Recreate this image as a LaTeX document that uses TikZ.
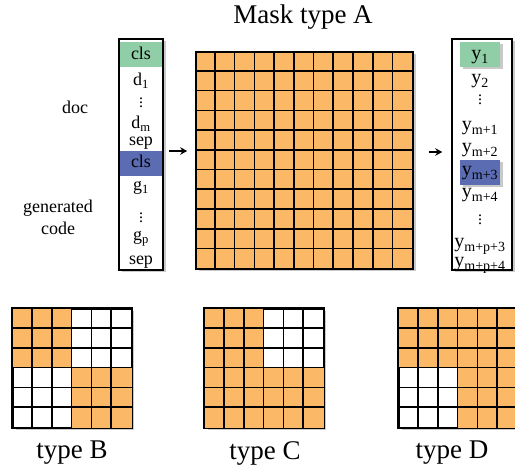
\documentclass[tikz,border=0pt]{standalone}
\usepackage{fontspec}
\setmainfont{Liberation Serif}
\newfontfamily\timesfont{Liberation Serif}
\usetikzlibrary{arrows.meta,shadows,calc}

\definecolor{maskorange}{HTML}{FBB867}
\definecolor{clsgreen}{HTML}{8FCEA6}
\definecolor{clsblue}{HTML}{5B6CB2}

\begin{document}
\begin{tikzpicture}[x=1pt,y=-1pt,
	shadowed/.style={drop shadow={shadow xshift=2.5pt,shadow yshift=-2.5pt,opacity=0.35,fill=black!60}},
	colbox/.style={draw,line width=1.5pt,fill=white,shadowed,inner sep=0pt},
	maskbox/.style={draw,line width=1.6pt,shadowed,inner sep=0pt},
	hl/.style={minimum height=25pt,anchor=center,inner sep=0pt},
	tok/.style={font=\timesfont\fontsize{18}{20}\selectfont,inner sep=0pt,anchor=base},
	ytok/.style={font=\timesfont\fontsize{20}{22}\selectfont,inner sep=0pt,anchor=base},
	vdot/.style={font=\timesfont\fontsize{16}{18}\selectfont,inner sep=0pt},
	lbl/.style={font=\timesfont\fontsize{18}{22}\selectfont,align=center},
	masklbl/.style={font=\timesfont\fontsize{27}{30}\selectfont},
	arr/.style={-{Stealth[length=7pt,width=7.5pt]},line width=2.2pt},
	gridline/.style={line width=1.6pt}]

	\useasboundingbox (0,0) rectangle (515,473);

	% input tokens
	\node[colbox,minimum width=44pt,minimum height=231pt] (inbox) at (141,154.5) {};
	\node[hl,fill=clsgreen,minimum width=42pt] (hlA) at (141,54.5) {};
	\node[hl,fill=clsblue,minimum width=42pt] (hlB) at (141,163.5) {};
	\node[tok] (cls1) at (141,60) {cls};
	\node[tok] (d1) at (141,86) {d\textsubscript{1}};
	\node[vdot] (dots1) at (141,100) {\vdots};
	\node[tok] (dm) at (141,129) {d\textsubscript{m}};
	\node[tok] (sep1) at (141,146) {sep};
	\node[tok] (cls2) at (141,168) {cls};
	\node[tok] (g1) at (141,191) {g\textsubscript{1}};
	\node[vdot] (dots2) at (141,215) {\vdots};
	\node[tok] (gp) at (141,241) {g\textsubscript{p}};
	\node[tok] (sep2) at (141,265) {sep};

	\node[lbl] (doc) at (75,107) {doc};
	\node[lbl] (gen) at (58,217) {generated\\code};

	% output tokens
	\node[colbox,minimum width=60pt,minimum height=231pt] (outbox) at (482,154.5) {};
	\node[hl,fill=clsgreen,shadowed,minimum width=40pt] (hlC) at (480,54.5) {};
	\node[hl,fill=clsblue,shadowed,minimum width=40pt] (hlD) at (480,172.5) {};
	\node[ytok] (y1) at (480,60) {y\textsubscript{1}};
	\node[ytok] (y2) at (480,84) {y\textsubscript{2}};
	\node[vdot] (ydots1) at (480,97) {\vdots};
	\node[ytok] (ym1) at (480,131) {y\textsubscript{m+1}};
	\node[ytok] (ym2) at (480,153) {y\textsubscript{m+2}};
	\node[ytok] (ym3) at (480,176) {y\textsubscript{m+3}};
	\node[ytok] (ym4) at (480,198) {y\textsubscript{m+4}};
	\node[vdot] (ydots2) at (480,217) {\vdots};
	\node[ytok] (ymp3) at (480,248) {y\textsubscript{m+p+3}};
	\node[ytok] (ymp4) at (480,267) {y\textsubscript{m+p+4}};

	% mask type A
	\node[masklbl] (capA) at (303,17) {Mask type A};
	\node[maskbox,fill=maskorange,minimum size=217pt] (maskA) at (304.5,160.5) {};
	\foreach \i in {1,...,10} {
		\draw[gridline] ($(maskA.north west)+(\i*19.727,0)$) -- ($(maskA.south west)+(\i*19.727,0)$);
		\draw[gridline] ($(maskA.north west)+(0,\i*19.727)$) -- ($(maskA.north east)+(0,\i*19.727)$);
	}

	\draw[arr] ($(inbox.east)+(5,-3.5)$) -- ($(maskA.west)+(-8,-9.5)$);
	\draw[arr] ($(maskA.east)+(15,-8.5)$) -- ($(outbox.west)+(-9,-2.5)$);

	% masks type B, C, D
	\node[maskbox,fill=white,minimum size=118.8pt] (maskB) at (72.4,368.4) {};
	\node[maskbox,fill=white,minimum size=118.8pt] (maskC) at (264.4,368.4) {};
	\node[maskbox,fill=white,minimum size=118.8pt] (maskD) at (458.4,368.4) {};

	\fill[maskorange] (maskB.north west) rectangle ($(maskB.north west)+(59.4,59.4)$);
	\fill[maskorange] ($(maskB.north west)+(59.4,59.4)$) rectangle (maskB.south east);
	\fill[maskorange] (maskC.north west) rectangle ($(maskC.north west)+(59.4,59.4)$);
	\fill[maskorange] ($(maskC.north west)+(0,59.4)$) rectangle (maskC.south east);
	\fill[maskorange] (maskD.north west) rectangle ($(maskD.north east)+(0,59.4)$);
	\fill[maskorange] ($(maskD.north west)+(59.4,59.4)$) rectangle (maskD.south east);

	\foreach \m in {maskB,maskC,maskD} {
		\foreach \i in {1,...,5} {
			\draw[gridline] ($(\m.north west)+(\i*19.8,0)$) -- ($(\m.south west)+(\i*19.8,0)$);
			\draw[gridline] ($(\m.north west)+(0,\i*19.8)$) -- ($(\m.north east)+(0,\i*19.8)$);
		}
		\draw[gridline] (\m.north west) rectangle (\m.south east);
	}

	\node[masklbl] (capB) at (72,453) {type B};
	\node[masklbl] (capC) at (265,453) {type C};
	\node[masklbl] (capD) at (452,453) {type D};
\end{tikzpicture}
\end{document}
